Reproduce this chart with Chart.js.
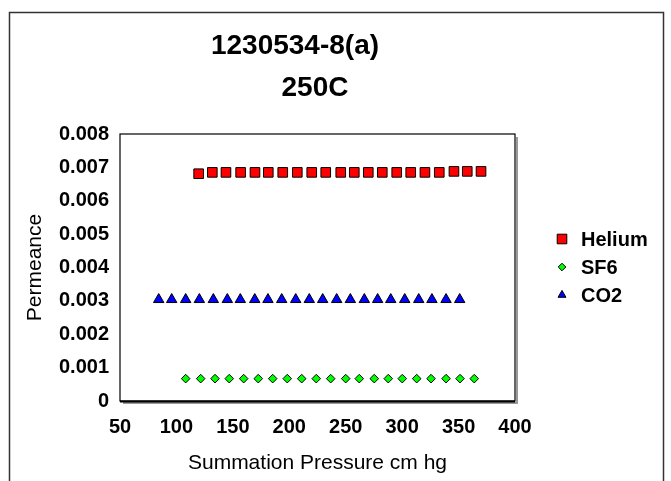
<!DOCTYPE html>
<html>
<head>
<meta charset="utf-8">
<title>1230534-8(a) 250C</title>
<script src="https://cdn.jsdelivr.net/npm/chart.js@4/dist/chart.umd.min.js"></script>
<style>
  html, body { margin: 0; padding: 0; background: #fff; }
  #permChart { display: block; }
</style>
</head>
<body>
<canvas id="permChart" width="671" height="481"></canvas>
<script>
// values
const titleLines = ['1230534-8(a)', '250C'];
const seriesNames = ['Helium', 'SF6', 'CO2'];

const heliumX = [119.7, 131.8, 143.9, 156.9, 169.6, 181.4, 194.2, 207.1, 219.9, 232.3, 245.6,
                 257.6, 270.0, 282.4, 295.2, 307.6, 320.2, 332.9, 345.9, 357.7, 369.9];
const heliumY = [0.00681, 0.00685, 0.00685, 0.00685, 0.00685, 0.00685, 0.00685, 0.00685, 0.00685, 0.00685, 0.00685,
                 0.00685, 0.00685, 0.00685, 0.00685, 0.00685, 0.00685, 0.00685, 0.00688, 0.00688, 0.00688];

const sf6X = [108.2, 121.5, 134.2, 146.8, 159.6, 172.5, 185.3, 198.2, 211.0, 223.9, 236.7,
              250.0, 262.0, 275.3, 287.7, 300.1, 312.9, 325.6, 338.9, 351.3, 363.9];
const sf6Y = [0.00067, 0.00067, 0.00067, 0.00067, 0.00067, 0.00067, 0.00067, 0.00067, 0.00067, 0.00067, 0.00067,
              0.00067, 0.00067, 0.00067, 0.00067, 0.00067, 0.00067, 0.00067, 0.00067, 0.00067, 0.00067];

const co2X = [84.3, 95.8, 108.2, 120.3, 132.7, 145.1, 156.6, 169.4, 181.1, 193.3, 205.7, 217.7,
              229.6, 242.0, 254.1, 266.5, 278.3, 289.9, 302.3, 314.7, 326.4, 338.9, 351.0];
const co2Y = [0.00304, 0.00304, 0.00304, 0.00304, 0.00304, 0.00304, 0.00304, 0.00304, 0.00304, 0.00304, 0.00304, 0.00304,
              0.00304, 0.00304, 0.00304, 0.00304, 0.00304, 0.00304, 0.00304, 0.00304, 0.00304, 0.00304, 0.00304];

const xTicks = [50, 100, 150, 200, 250, 300, 350, 400];
const yTicks = [0, 0.001, 0.002, 0.003, 0.004, 0.005, 0.006, 0.007, 0.008];

const toPoints = (xs, ys) => xs.map((x, i) => ({ x: x, y: ys[i] }));

const FONT = '"Liberation Sans", Arial, Helvetica, sans-serif';
Chart.defaults.font.family = FONT;
Chart.defaults.color = '#000';

// frame, plot border, titles and legend drawn on top of the chart
const decorPlugin = {
    id: 'decor',
    afterDraw(chart) {
        const ctx = chart.ctx;
        const a = chart.chartArea;
        ctx.save();

        // outer chart frame
        ctx.strokeStyle = '#333';
        ctx.lineWidth = 1.5;
        ctx.strokeRect(9.5, 12.5, 654, 490);

        // plot area border with a small shadow
        ctx.strokeStyle = '#999';
        ctx.lineWidth = 2;
        ctx.beginPath();
        ctx.moveTo(a.right + 2, a.top + 3);
        ctx.lineTo(a.right + 2, a.bottom + 2);
        ctx.lineTo(a.left + 3, a.bottom + 2);
        ctx.stroke();
        ctx.strokeStyle = '#000';
        ctx.lineWidth = 1.2;
        ctx.strokeRect(a.left, a.top, a.right - a.left, a.bottom - a.top);
        ctx.lineWidth = 2;
        ctx.beginPath();
        ctx.moveTo(a.left, a.bottom + 0.5);
        ctx.lineTo(a.right, a.bottom + 0.5);
        ctx.stroke();

        // titles
        ctx.fillStyle = '#000';
        ctx.font = 'bold 28px ' + FONT;
        ctx.textAlign = 'center';
        ctx.textBaseline = 'middle';
        ctx.fillText(titleLines[0], 295, 46);
        ctx.fillText(titleLines[1], 315, 88);

        // legend
        const rows = [239, 267, 295];
        const sizes = [6.8, 3.8, 4.6];
        ctx.font = 'bold 20px ' + FONT;
        ctx.textAlign = 'left';
        chart.data.datasets.forEach((ds, i) => {
            ctx.fillStyle = ds.pointBackgroundColor;
            ctx.strokeStyle = ds.pointBorderColor;
            ctx.lineWidth = 1;
            Chart.helpers.drawPoint(ctx, { pointStyle: ds.pointStyle, rotation: 0, borderWidth: 1, radius: sizes[i] }, 562, rows[i]);
            ctx.fillStyle = '#000';
            ctx.fillText(ds.label, 581, rows[i] + 1);
        });
        ctx.restore();
    }
};

new Chart(document.getElementById('permChart'), {
    type: 'scatter',
    data: {
        datasets: [
            {
                label: seriesNames[0],
                data: toPoints(heliumX, heliumY),
                pointStyle: 'rect',
                pointRadius: 6.8,
                pointBackgroundColor: '#ff0000',
                pointBorderColor: '#000',
                pointBorderWidth: 1
            },
            {
                label: seriesNames[1],
                data: toPoints(sf6X, sf6Y),
                pointStyle: 'rectRot',
                pointRadius: 4.3,
                pointBackgroundColor: '#00ff00',
                pointBorderColor: '#000',
                pointBorderWidth: 1
            },
            {
                label: seriesNames[2],
                data: toPoints(co2X, co2Y),
                pointStyle: 'triangle',
                pointRadius: 6,
                pointBackgroundColor: '#0000ff',
                pointBorderColor: '#000',
                pointBorderWidth: 1
            }
        ]
    },
    options: {
        responsive: false,
        animation: false,
        layout: { padding: { top: 134, right: 156, left: 0, bottom: 0 } },
        plugins: {
            legend: { display: false },
            title: { display: false },
            tooltip: { enabled: false }
        },
        scales: {
            x: {
                type: 'linear',
                min: xTicks[0],
                max: xTicks[xTicks.length - 1],
                afterFit(scale) { scale.height = 80; },
                afterBuildTicks(scale) { scale.ticks = xTicks.map(v => ({ value: v })); },
                grid: { display: false, drawTicks: false },
                border: { display: false },
                ticks: {
                    padding: 14,
                    font: { size: 20, weight: 'bold' },
                    color: '#000'
                },
                title: {
                    display: true,
                    text: 'Summation Pressure cm hg',
                    font: { size: 21 },
                    color: '#000',
                    padding: { top: 0, bottom: 5 }
                }
            },
            y: {
                type: 'linear',
                min: yTicks[0],
                max: yTicks[yTicks.length - 1],
                afterFit(scale) { scale.width = 120; },
                afterBuildTicks(scale) { scale.ticks = yTicks.map(v => ({ value: v })); },
                grid: { display: false, drawTicks: false },
                border: { display: false },
                ticks: {
                    padding: 11,
                    font: { size: 20, weight: 'bold' },
                    color: '#000',
                    callback: v => (v === 0 ? '0' : v.toFixed(3))
                },
                title: {
                    display: true,
                    text: 'Permeance',
                    font: { size: 21 },
                    color: '#000',
                    padding: { top: 23, bottom: 0 }
                }
            }
        }
    },
    plugins: [decorPlugin]
});
</script>
</body>
</html>
